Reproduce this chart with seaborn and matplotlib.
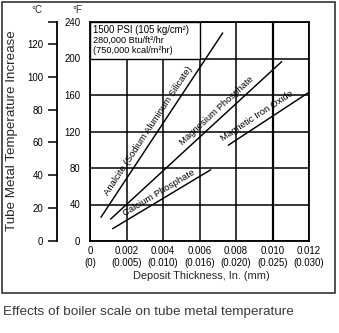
import numpy as np
import pandas as pd
import matplotlib
matplotlib.use("Agg")
import matplotlib.pyplot as plt
from matplotlib.patches import Rectangle
from matplotlib.ticker import FixedLocator
import seaborn as sns

# Scale deposits: straight-line trends of tube metal temperature rise (°F)
# against deposit thickness (in.)
compounds = [
    "Analcite (Sodium Aluminum Silicate)",
    "Magnesium Phosphate",
    "Calcium Phosphate",
    "Magnetic Iron Oxide",
]
thickness_start = [0.0006, 0.00113, 0.00124, 0.00758]
thickness_end = [0.00727, 0.0105, 0.00661, 0.01196]
temp_rise_start = [26, 24, 13.5, 105]
temp_rise_end = [228, 196.5, 78, 162.5]

thickness_ticks = [0, 0.002, 0.004, 0.006, 0.008, 0.010, 0.012]
thickness_tick_labels = ["0\n(0)", "0.002\n(0.005)", "0.004\n(0.010)",
                         "0.006\n(0.016)", "0.008\n(0.020)", "0.010\n(0.025)",
                         "0.012\n(0.030)"]
f_ticks = [0, 40, 80, 120, 160, 200, 240]
c_ticks = [0, 20, 40, 60, 80, 100, 120]

conditions = ["1500 PSI (105 kg/cm²)", "280,000 Btu/ft²/hr", "(750,000 kcal/m²hr)"]
caption = "Effects of boiler scale on tube metal temperature"

sns.set_theme(style="white")
plt.rcParams["font.family"] = ["Liberation Sans", "DejaVu Sans"]

W, H = 339, 333
fig = plt.figure(figsize=(W / 100, H / 100), dpi=100)
fig.patch.set_facecolor("white")

def fx(px):
    return px / W

def fy(py):
    return 1 - py / H

left, right, top, bottom = 90, 309, 22, 241
ax = fig.add_axes([fx(left), fy(bottom), (right - left) / W, (bottom - top) / H])
ax.set_facecolor("white")

rows = []
for name, x0, x1, y0, y1 in zip(compounds, thickness_start, thickness_end,
                                temp_rise_start, temp_rise_end):
    rows.append({"compound": name, "thickness": x0, "rise": y0})
    rows.append({"compound": name, "thickness": x1, "rise": y1})
df = pd.DataFrame(rows)

sns.lineplot(data=df, x="thickness", y="rise", units="compound", estimator=None,
             color="black", lw=1.05, ax=ax, zorder=4, legend=False)

ax.set_xlim(0, 0.012)
ax.set_ylim(0, 240)
ax.set_xticks(thickness_ticks)
ax.set_xticklabels(thickness_tick_labels, fontsize=6.9, linespacing=1.25)
ax.set_yticks(f_ticks)
ax.set_yticklabels([str(t) for t in f_ticks], fontsize=6.9)
ax.tick_params(axis="both", length=0, colors="black")
ax.tick_params(axis="x", pad=3.5)
ax.tick_params(axis="y", pad=7)
ax.set_xlabel("")
ax.set_ylabel("")
ax.grid(True, color="black", lw=1.1)
ax.set_axisbelow(True)
for s in ax.spines.values():
    s.set_color("black")
    s.set_linewidth(1.3)
# heavier rule at 0.010 in.
ax.axvline(0.010, color="black", lw=1.6, zorder=1.5)

# operating-conditions box in the upper-left cells
ax.add_patch(Rectangle((0, 200), 0.006, 40, facecolor="white", edgecolor="black",
                       lw=1.0, zorder=2))
for i, line in enumerate(conditions):
    ax.text(0.00017, 231 - i * 11, line, fontsize=6.9 if i == 0 else 6.6,
            va="center", ha="left", color="black", zorder=3)

# labels running along each line
label_frac = [0.444, 0.651, 0.505, 0.42]
label_offset_px = [8.5, 8.0, 7.0, 8.5]
for name, x0, x1, y0, y1, f, off in zip(compounds, thickness_start, thickness_end,
                                        temp_rise_start, temp_rise_end,
                                        label_frac, label_offset_px):
    p0 = ax.transData.transform((x0, y0))
    p1 = ax.transData.transform((x1, y1))
    d = p1 - p0
    length = np.hypot(*d)
    normal = np.array([-d[1], d[0]]) / length
    pt = p0 + f * d + normal * off
    xd, yd = ax.transData.inverted().transform(pt)
    ang = np.degrees(np.arctan2(d[1], d[0]))
    ax.text(xd, yd, name, rotation=ang, rotation_mode="anchor", ha="center",
            va="center", fontsize=6.8, color="black", zorder=5)

# Celsius scale on an offset spine
axc = ax.twinx()
axc.set_ylim(0, 240 * 5 / 9)
for side in ["right", "top", "bottom"]:
    axc.spines[side].set_visible(False)
axc.spines["left"].set_visible(True)
axc.spines["left"].set_position(("outward", (left - 56.5) * 0.72))
axc.spines["left"].set_linewidth(1.3)
axc.spines["left"].set_color("black")
axc.yaxis.set_ticks_position("left")
axc.yaxis.set_label_position("left")
axc.set_yticks(c_ticks)
axc.set_yticklabels([str(t) for t in c_ticks], fontsize=6.9)
axc.yaxis.set_minor_locator(FixedLocator([240 * 5 / 9]))
axc.tick_params(axis="y", which="both", length=6.5, width=1.1, pad=3, colors="black")
axc.grid(False)

fig.text(fx(37), fy(10), "°C", fontsize=6.9, ha="center", va="center")
fig.text(fx(77), fy(10), "°F", fontsize=6.9, ha="center", va="center")
fig.text(fx(12), fy(131), "Tube Metal Temperature Increase", rotation=90,
         fontsize=9.6, ha="center", va="center")
fig.text(fx(201), fy(276), "Deposit Thickness, In. (mm)", fontsize=7.9,
         ha="center", va="center")

fig.add_artist(Rectangle((fx(2), fy(293)), (335 - 2) / W, (293 - 2) / H,
                         transform=fig.transFigure, fill=False,
                         edgecolor="#222222", lw=1.1))
fig.text(fx(3), fy(312), caption, fontsize=9.7, ha="left", va="center",
         color="#3a3a3a")

fig.savefig("out.png", dpi=100)
